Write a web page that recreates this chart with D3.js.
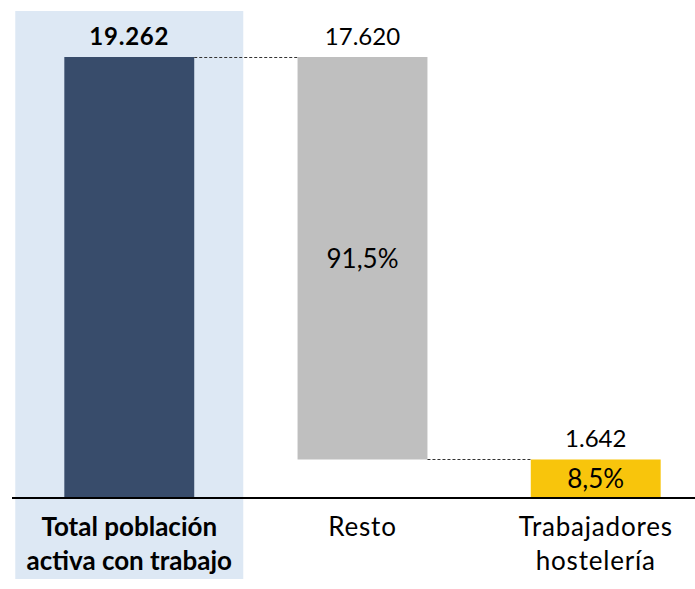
<!DOCTYPE html>
<html>
<head>
<meta charset="utf-8">
<script src="https://cdn.jsdelivr.net/npm/d3@7"></script>
<style>
  body { margin: 0; background: #fff; }
  text { font-family: Lato, "Open Sans", sans-serif; fill: #000; }
</style>
</head>
<body>
<div id="chart"></div>
<script>
// ─── data ─────────────────────────────────────────────────────────
const categories = ["Total población|activa con trabajo", "Resto", "Trabajadores|hostelería"];
const values     = [19262, 17620, 1642];
const valueLabels = ["19.262", "17.620", "1.642"];
const shareLabels = [null, "91,5%", "8,5%"];

// ─── colours ──────────────────────────────────────────────────────
const navy   = "#384c6b";
const grey   = "#bfbfbf";
const yellow = "#f8c50c";
const pale   = "#dde8f4";

const width  = 695;
const height = 589;
const baseY  = 497;
const topY   = 57;

const svg = d3.select("#chart")
    .append("svg")
    .attr("width", width)
    .attr("height", height);

const x = d3.scaleBand()
    .domain(categories)
    .range([-39, 764])
    .padding(0.443);

const y = d3.scaleLinear()
    .domain([0, values[0]])
    .range([baseY, topY]);

// waterfall: total from 0, "Resto" hangs from the top, hostelería sits on 0
const bars = [
    { cat: categories[0], y0: 0, y1: values[0], color: navy },
    { cat: categories[1], y0: values[2], y1: values[0], color: grey },
    { cat: categories[2], y0: 0, y1: values[2], color: yellow }
];

// highlight panel behind the first column
const cx0 = x(categories[0]) + x.bandwidth() / 2;
svg.append("rect")
    .attr("x", cx0 - 114)
    .attr("y", 11)
    .attr("width", 228)
    .attr("height", 568)
    .attr("fill", pale);

svg.selectAll("rect.bar")
    .data(bars)
    .join("rect")
    .attr("class", "bar")
    .attr("x", d => x(d.cat))
    .attr("y", d => y(d.y1))
    .attr("width", x.bandwidth())
    .attr("height", d => y(d.y0) - y(d.y1))
    .attr("fill", d => d.color);

// ── connector lines ───────────────────────────────────────────────
const connectors = [
    { from: 0, to: 1, v: values[0] },
    { from: 1, to: 2, v: values[2] }
];
svg.selectAll("line.conn")
    .data(connectors)
    .join("line")
    .attr("class", "conn")
    .attr("x1", d => x(categories[d.from]) + x.bandwidth())
    .attr("x2", d => x(categories[d.to]))
    .attr("y1", d => Math.round(y(d.v)) + 0.5)
    .attr("y2", d => Math.round(y(d.v)) + 0.5)
    .attr("stroke", "#333")
    .attr("stroke-width", 1)
    .attr("stroke-dasharray", "3,2");

// ── baseline ──────────────────────────────────────────────────────
svg.append("line")
    .attr("x1", 12)
    .attr("x2", width)
    .attr("y1", baseY + 1)
    .attr("y2", baseY + 1)
    .attr("stroke", "#000")
    .attr("stroke-width", 2);

// ── value labels above bars ───────────────────────────────────────
svg.selectAll("text.value")
    .data(bars)
    .join("text")
    .attr("class", "value")
    .attr("x", d => x(d.cat) + x.bandwidth() / 2)
    .attr("y", d => y(d.y1) - 12)
    .attr("text-anchor", "middle")
    .style("font-size", "24px")
    .style("font-weight", (d, i) => i === 0 ? "700" : "400")
    .style("letter-spacing", (d, i) => i === 0 ? "0.8px" : "0")
    .text((d, i) => valueLabels[i]);

// ── share labels inside bars ──────────────────────────────────────
svg.selectAll("text.share")
    .data(bars.filter((d, i) => shareLabels[i]))
    .join("text")
    .attr("class", "share")
    .attr("x", d => x(d.cat) + x.bandwidth() / 2)
    .attr("y", d => (y(d.y0) + y(d.y1)) / 2)
    .attr("dy", "0.36em")
    .attr("text-anchor", "middle")
    .style("font-size", "26px")
    .text(d => shareLabels[categories.indexOf(d.cat)]);

// ── category labels ───────────────────────────────────────────────
categories.forEach((c, i) => {
    const cx = x(c) + x.bandwidth() / 2;
    const t = svg.append("text")
        .attr("x", cx)
        .attr("y", 536)
        .attr("text-anchor", "middle")
        .style("font-size", "26px")
        .style("letter-spacing", i === 0 ? "0" : "0.8px")
        .style("font-weight", i === 0 ? "700" : "400");
    c.split("|").forEach((line, j) => {
        t.append("tspan")
            .attr("x", cx)
            .attr("dy", j === 0 ? 0 : 34)
            .text(line);
    });
});
</script>
</body>
</html>
